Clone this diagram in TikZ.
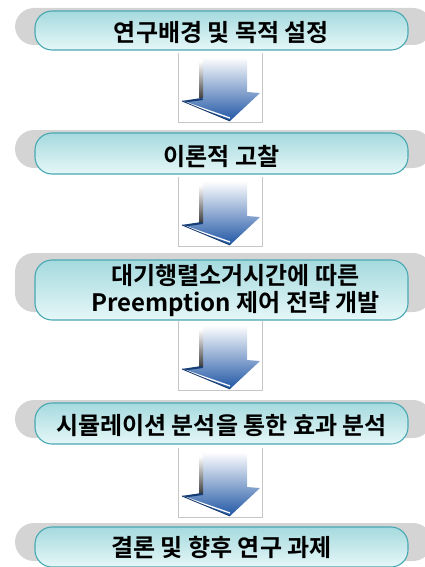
\documentclass[tikz,border=0pt]{standalone}
\usepackage{fontspec}
\newfontfamily\kr{Noto Sans CJK KR}[BoldFont={Noto Sans CJK KR Bold}]
\definecolor{tborder}{RGB}{72,168,178}
\definecolor{ttop}{RGB}{165,218,222}
\definecolor{tmid}{RGB}{135,204,209}
\definecolor{tbot}{RGB}{230,247,248}
\definecolor{shgray}{RGB}{212,212,212}
\definecolor{ablue}{RGB}{32,86,165}
\definecolor{ablueL}{RGB}{100,155,215}
\tikzset{
  stepbox/.style={draw=tborder, line width=1.1pt, rounded corners=17pt,
    top color=ttop, middle color=tmid, bottom color=tbot,
    minimum width=373pt, inner sep=0pt},
  shadowbox/.style={fill=shgray, draw=none, rounded corners=19pt},
  steptext/.style={font=\kr\bfseries\fontsize{24}{27}\selectfont, text=black, align=center, inner sep=0pt},
  framepic/.style={draw=gray!45, line width=0.6pt},
}
\newcommand\arrowpic[1]{%
  \begin{scope}[shift={(#1)}]
    \draw[framepic] (0,0) -- (0,69) -- (84,69) -- (84,0);
    \shade[top color=white, middle color=ablueL, bottom color=ablue]
      (24,4) -- (69,4) -- (69,39) -- (82,40) -- (52,68) -- (4,48) -- (24,45) -- cycle;
    \shade[top color=white, bottom color=black!75] (21,8) rectangle (25,45);
    \fill[ablue!70!black] (4,48) -- (24,45) -- (25,47) -- (10,49) -- cycle;
    \draw[white, line width=1.3pt] (9,50) -- (52,65);
    \draw[ablue!60!black, line width=0.8pt] (4,48) -- (52,68);
  \end{scope}}
\begin{document}
\begin{tikzpicture}[x=1pt,y=-1pt]
  \useasboundingbox (0,0) rectangle (425,567);
  % shadows
  \fill[shadowbox] (15,8) rectangle (432,45);
  \fill[shadowbox] (15,130) rectangle (432,168);
  \fill[shadowbox] (15,253) rectangle (432,312);
  \fill[shadowbox] (15,400) rectangle (432,438);
  \fill[shadowbox] (15,523) rectangle (432,561);
  % boxes
  \node[stepbox, minimum height=39pt] (b1) at (221.5,30.5) {};
  \node[stepbox, minimum height=41pt] (b2) at (221.5,153.5) {};
  \node[stepbox, minimum height=60pt] (b3) at (221.5,290) {};
  \node[stepbox, minimum height=41pt] (b4) at (221.5,423.5) {};
  \node[stepbox, minimum height=40pt] (b5) at (221.5,547) {};
  % texts
  \node[steptext] (t1) at ([yshift=-2pt]b1.center) {연구배경 및 목적 설정};
  \node[steptext] (t2) at ([yshift=-3pt]b2.center) {이론적 고찰};
  \node[steptext] (t3) at ([xshift=14pt,yshift=-1pt]b3.center) {대기행렬소거시간에 따른\\Preemption 제어 전략 개발};
  \node[steptext] (t4) at ([yshift=-2pt]b4.center) {시뮬레이션 분석을 통한 효과 분석};
  \node[steptext] (t5) at ([yshift=0pt]b5.center) {결론 및 향후 연구 과제};
  % arrows
  \coordinate (a1) at (178,53);
  \coordinate (a2) at (178,177);
  \coordinate (a3) at (178,321);
  \coordinate (a4) at (178,448);
  \arrowpic{a1}
  \arrowpic{a2}
  \arrowpic{a3}
  \arrowpic{a4}
\end{tikzpicture}
\end{document}
